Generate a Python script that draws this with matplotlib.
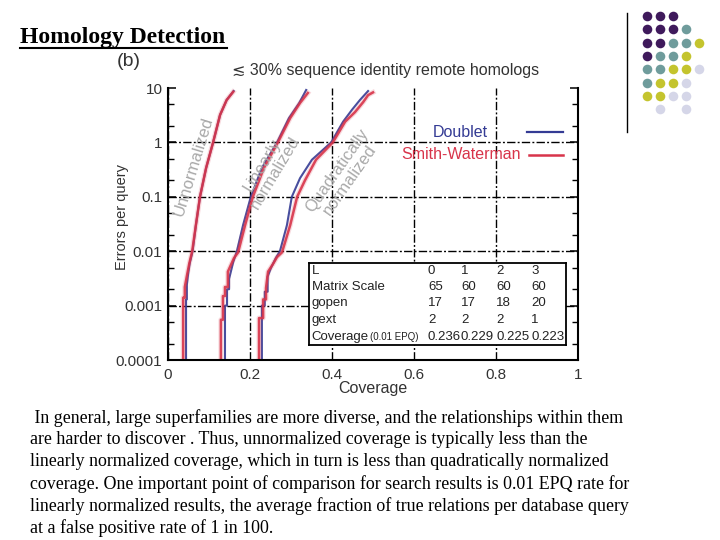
import matplotlib.pyplot as plt
from matplotlib.ticker import LogLocator, NullFormatter

# ---- curve data (coverage, errors per query) ----
unn_db_x = [0.044, 0.044, 0.046, 0.046, 0.049, 0.053, 0.060, 0.068, 0.078, 0.093, 0.110, 0.127, 0.143, 0.160]
unn_db_y = [5e-5, 1.3e-3, 1.3e-3, 2.4e-3, 3.8e-3, 6e-3, 1e-2, 3e-2, 0.1, 0.34, 1.0, 3.2, 6.0, 8.8]
unn_sw_x = [0.037, 0.037, 0.041, 0.041, 0.046, 0.052, 0.059, 0.068, 0.078, 0.093, 0.110, 0.127, 0.143, 0.159]
unn_sw_y = [5e-5, 1.4e-3, 1.4e-3, 2.2e-3, 3.5e-3, 6e-3, 1e-2, 3e-2, 0.1, 0.34, 1.0, 3.2, 6.0, 8.5]

lin_db_x = [0.139, 0.139, 0.144, 0.144, 0.149, 0.149, 0.159, 0.168, 0.183, 0.202, 0.229, 0.266, 0.295, 0.320, 0.337]
lin_db_y = [5e-5, 1.0e-3, 1.0e-3, 2.0e-3, 2.0e-3, 3.1e-3, 6.3e-3, 1e-2, 3e-2, 0.1, 0.34, 1.0, 2.8, 5.3, 9.2]
lin_sw_x = [0.129, 0.129, 0.134, 0.134, 0.139, 0.139, 0.146, 0.146, 0.161, 0.171, 0.188, 0.207, 0.234, 0.268, 0.298, 0.322, 0.341]
lin_sw_y = [5e-5, 5.5e-4, 5.5e-4, 1.5e-3, 1.5e-3, 2.2e-3, 2.2e-3, 4.2e-3, 7.5e-3, 9.5e-3, 3e-2, 0.1, 0.34, 1.0, 2.8, 5.3, 8.1]

quad_db_x = [0.229, 0.229, 0.236, 0.236, 0.243, 0.243, 0.251, 0.263, 0.273, 0.290, 0.302, 0.322, 0.351, 0.398, 0.427, 0.449, 0.468, 0.488]
quad_db_y = [5e-5, 1.0e-3, 1.0e-3, 1.8e-3, 1.8e-3, 3.4e-3, 4.9e-3, 7.5e-3, 1e-2, 3e-2, 0.1, 0.22, 0.48, 1.0, 2.4, 4.0, 6.0, 8.8]
quad_sw_x = [0.222, 0.222, 0.232, 0.232, 0.239, 0.239, 0.244, 0.256, 0.266, 0.278, 0.298, 0.315, 0.334, 0.361, 0.402, 0.432, 0.456, 0.476, 0.488, 0.500]
quad_sw_y = [5e-5, 5.9e-4, 5.9e-4, 1.3e-3, 1.3e-3, 2.1e-3, 4.2e-3, 5.8e-3, 7.8e-3, 9.5e-3, 3e-2, 0.1, 0.2, 0.48, 1.0, 2.4, 3.6, 5.5, 7.4, 8.3]

x_ticks = [0, 0.2, 0.4, 0.6, 0.8, 1]
x_tick_labels = ['0', '0.2', '0.4', '0.6', '0.8', '1']
y_ticks = [1e-4, 1e-3, 1e-2, 1e-1, 1, 10]
y_tick_labels = ['0.0001', '0.001', '0.01', '0.1', '1', '10']

table_rows = ['L', 'Matrix Scale', 'gopen', 'gext', 'Coverage']
table_L = ['0', '1', '2', '3']
table_scale = ['65', '60', '60', '60']
table_gopen = ['17', '17', '18', '20']
table_gext = ['2', '2', '2', '1']
table_cov = ['0.236', '0.229', '0.225', '0.223']

body_lines = [
    ' In general, large superfamilies are more diverse, and the relationships within them',
    'are harder to discover . Thus, unnormalized coverage is typically less than the',
    'linearly normalized coverage, which in turn is less than quadratically normalized',
    'coverage. One important point of comparison for search results is 0.01 EPQ rate for',
    'linearly normalized results, the average fraction of true relations per database query',
    'at a false positive rate of 1 in 100.',
]

# slide decoration: dot pattern, one string per row
dot_rows = ['PPP', 'PPPT', 'PPTTY', 'PTTY', 'TTYYL', 'TYYL', 'YYLL', '.L.L']
dot_colors = {'P': '#3f1a5c', 'T': '#6f9c9c', 'Y': '#c4c42e', 'L': '#d5d6e8'}

BLUE = '#343b94'
RED = '#d8344a'
GRAY = '#a9a9a9'
sans = ['Liberation Sans', 'DejaVu Sans']
serif = ['Liberation Serif', 'DejaVu Serif']
plt.rcParams['font.family'] = sans

W, H = 720, 540
fig = plt.figure(figsize=(7.2, 5.4), dpi=100)


def fx(px):
    return px / W


def fy(py):
    return 1 - py / H


ax = fig.add_axes([fx(168), fy(360), 410 / W, 272 / H])
for xs, ys in [(unn_db_x, unn_db_y), (lin_db_x, lin_db_y), (quad_db_x, quad_db_y)]:
    ax.plot(xs, ys, color=BLUE, lw=1.5, alpha=0.9, solid_joinstyle='round')
for xs, ys in [(unn_sw_x, unn_sw_y), (lin_sw_x, lin_sw_y), (quad_sw_x, quad_sw_y)]:
    ax.plot(xs, ys, color=RED, lw=3.6, alpha=0.18, solid_joinstyle='round')
    ax.plot(xs, ys, color=RED, lw=1.8, alpha=0.9, solid_joinstyle='round')

ax.set_yscale('log')
ax.set_xlim(0, 1)
ax.set_ylim(1e-4, 10)
ax.set_xticks(x_ticks)
ax.set_xticklabels(x_tick_labels)
ax.set_yticks(y_ticks)
ax.set_yticklabels(y_tick_labels)
ax.yaxis.set_minor_locator(LogLocator(subs=(2, 5)))
ax.yaxis.set_minor_formatter(NullFormatter())
ax.grid(True, which='major', color='black', lw=1.0, linestyle=(0, (6, 1.6, 1.4, 1.6)))
ax.yaxis.get_gridlines()[-1].set_visible(False)   # no line along the top edge
ax.tick_params(axis='y', which='both', direction='in', left=True, right=True,
               labelsize=11, labelcolor='#333333', pad=4)
ax.tick_params(axis='y', which='major', length=6, width=1.1)
ax.tick_params(axis='y', which='minor', length=4, width=1.0)
ax.tick_params(axis='x', length=0, labelsize=11, labelcolor='#333333', pad=6)
ax.spines['top'].set_visible(False)
for s in ['left', 'right', 'bottom']:
    ax.spines[s].set_linewidth(1.5)

# legend drawn to match the centred labels of the original
ax.plot([0.876, 0.963], [0.838, 0.838], color=BLUE, lw=1.6, transform=ax.transAxes)
ax.plot([0.881, 0.963], [0.754, 0.754], color=RED, lw=1.8, transform=ax.transAxes)
ax.text(0.712, 0.838, 'Doublet', color=BLUE, fontsize=11.5, ha='center', va='center',
        transform=ax.transAxes)
ax.text(0.715, 0.754, 'Smith-Waterman', color=RED, fontsize=11.5, ha='center', va='center',
        transform=ax.transAxes)

ax.text(0.063, 0.37, 'Unnormalized', rotation=73, color=GRAY, fontsize=12,
        ha='center', va='center', rotation_mode='anchor')
ax.text(0.246, 0.33, 'Linearly\nnormalized', rotation=59, color=GRAY, fontsize=12,
        ha='center', va='center', rotation_mode='anchor', multialignment='center', linespacing=1.0)
ax.text(0.428, 0.25, 'Quadratically\nnormalized', rotation=55, color=GRAY, fontsize=12,
        ha='center', va='center', rotation_mode='anchor', multialignment='center', linespacing=1.0)

# parameter table inset
tab = fig.add_axes([fx(309), fy(345), 257 / W, 82 / H])
tab.set_xticks([])
tab.set_yticks([])
for s in tab.spines.values():
    s.set_linewidth(1.3)
row_y = [0.90, 0.707, 0.512, 0.305, 0.10]
col_x = [0.463, 0.591, 0.728, 0.864]
for ry, label, vals in zip(row_y, table_rows, [table_L, table_scale, table_gopen, table_gext, table_cov]):
    tab.text(0.01, ry, label, fontsize=9.5, color='#222222', va='center', transform=tab.transAxes)
    for cx, v in zip(col_x, vals):
        tab.text(cx, ry, v, fontsize=9.5, color='#222222', va='center', transform=tab.transAxes)
tab.text(0.237, row_y[-1], '(0.01 EPQ)', fontsize=7, color='#222222', va='center',
         transform=tab.transAxes)

# slide-level text and decoration in pixel coordinates
deco = fig.add_axes([0, 0, 1, 1])
deco.set_xlim(0, W)
deco.set_ylim(H, 0)
deco.axis('off')

deco.text(20, 38, 'Homology Detection', family=serif, fontweight='bold', fontsize=17,
          ha='left', va='center')
deco.plot([20, 227], [48, 48], color='black', lw=1.5)
deco.text(129, 61, '(b)', fontsize=14, color='#333333', ha='center', va='center')
deco.text(386, 71, '\u2272 30% sequence identity remote homologs', fontsize=11.5,
          color='#333333', ha='center', va='center')
deco.text(122, 217, 'Errors per query', rotation=90, fontsize=10.5, color='#333333',
          ha='center', va='center')
deco.text(373, 389, 'Coverage', fontsize=11.5, color='#333333', ha='center', va='center')

for i, line in enumerate(body_lines):
    deco.text(30, 418 + 22 * i, line, family=serif, fontsize=12.9, ha='left', va='center')

deco.plot([627, 627], [13, 132], color='black', lw=1.0)
for r, row in enumerate(dot_rows):
    for c, key in enumerate(row):
        if key in dot_colors:
            deco.scatter(647 + 13 * c, 16 + 13.3 * r, s=48, color=dot_colors[key], linewidths=0)

fig.savefig('out.png', dpi=100)
